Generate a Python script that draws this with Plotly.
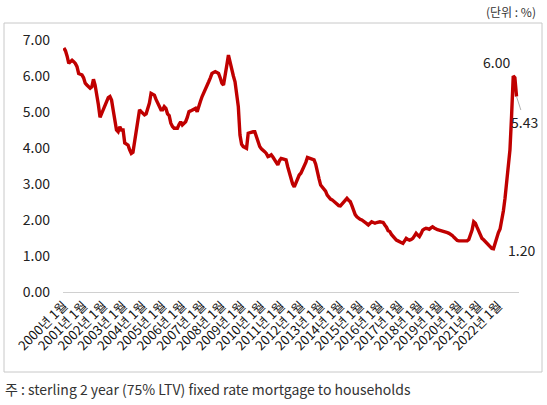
import plotly.graph_objects as go

W, H = 547, 405

years = list(range(2000, 2023))
months = list(range(1, 13))

rate_2000 = [6.78, 6.70, 6.55, 6.35, 6.40, 6.44, 6.40, 6.35, 6.26, 6.07, 6.05, 6.03]
rate_2001 = [5.95, 5.80, 5.75, 5.70, 5.66, 5.70, 5.91, 5.75, 5.52, 5.20, 4.85, 4.95]
rate_2002 = [5.06, 5.15, 5.30, 5.40, 5.43, 5.33, 5.05, 4.78, 4.50, 4.45, 4.59, 4.50]
rate_2003 = [4.50, 4.14, 4.10, 4.08, 3.95, 3.85, 3.88, 4.20, 4.50, 4.80, 5.06, 5.01]
rate_2004 = [4.95, 4.92, 4.95, 5.10, 5.25, 5.52, 5.50, 5.47, 5.35, 5.24, 5.15, 5.06]
rate_2005 = [5.06, 5.15, 5.10, 4.95, 4.90, 4.69, 4.60, 4.55, 4.55, 4.55, 4.65, 4.73]
rate_2006 = [4.64, 4.68, 4.73, 4.85, 5.01, 5.03, 5.06, 5.08, 5.10, 5.01, 5.19, 5.30]
rate_2007 = [5.43, 5.52, 5.61, 5.75, 5.84, 5.95, 6.07, 6.10, 6.12, 6.10, 6.07, 5.95]
rate_2008 = [5.80, 5.75, 5.98, 6.30, 6.58, 6.35, 6.12, 6.00, 5.84, 5.50, 5.15, 4.36]
rate_2009 = [4.10, 4.04, 4.00, 3.99, 4.41, 4.43, 4.45, 4.45, 4.45, 4.31, 4.15, 4.04]
rate_2010 = [3.98, 3.95, 3.90, 3.85, 3.76, 3.78, 3.81, 3.75, 3.67, 3.60, 3.53, 3.65]
rate_2011 = [3.71, 3.70, 3.68, 3.67, 3.48, 3.30, 3.10, 3.00, 2.92, 3.05, 3.16, 3.25]
rate_2012 = [3.30, 3.40, 3.48, 3.60, 3.74, 3.72, 3.71, 3.70, 3.67, 3.55, 3.39, 3.15]
rate_2013 = [2.97, 2.92, 2.88, 2.80, 2.69, 2.62, 2.58, 2.56, 2.52, 2.46, 2.44, 2.40]
rate_2014 = [2.39, 2.45, 2.51, 2.55, 2.60, 2.55, 2.51, 2.40, 2.23, 2.15, 2.09, 2.04]
rate_2015 = [2.02, 2.00, 1.97, 1.95, 1.90, 1.86, 1.90, 1.95, 1.93, 1.91, 1.93, 1.95]
rate_2016 = [1.95, 1.94, 1.93, 1.86, 1.80, 1.70, 1.68, 1.60, 1.54, 1.50, 1.44, 1.42]
rate_2017 = [1.40, 1.38, 1.35, 1.42, 1.49, 1.46, 1.44, 1.46, 1.49, 1.56, 1.63, 1.58]
rate_2018 = [1.54, 1.62, 1.72, 1.75, 1.77, 1.76, 1.74, 1.78, 1.81, 1.78, 1.74, 1.73]
rate_2019 = [1.72, 1.71, 1.70, 1.68, 1.67, 1.65, 1.63, 1.61, 1.57, 1.52, 1.47, 1.43]
rate_2020 = [1.42, 1.42, 1.42, 1.42, 1.42, 1.42, 1.46, 1.60, 1.72, 1.95, 1.91, 1.80]
rate_2021 = [1.68, 1.58, 1.49, 1.45, 1.40, 1.35, 1.31, 1.25, 1.21, 1.20, 1.35, 1.55]
rate_2022 = [1.65, 1.75, 1.95, 2.25, 2.60, 3.10, 3.55, 3.95, 4.90, 6.00, 5.95, 5.43]

yearly = [rate_2000, rate_2001, rate_2002, rate_2003, rate_2004, rate_2005,
          rate_2006, rate_2007, rate_2008, rate_2009, rate_2010, rate_2011,
          rate_2012, rate_2013, rate_2014, rate_2015, rate_2016, rate_2017,
          rate_2018, rate_2019, rate_2020, rate_2021, rate_2022]

categories = [f"{y}년 {m}월" for y in years for m in months]
values = [v for yr in yearly for v in yr]
tick_labels = [f"{y}년 1월" for y in years]

y_ticks = [0, 1, 2, 3, 4, 5, 6, 7]

# layout in pixels
L, R, T, B = 63, 28, 40, 113
pw, ph = W - L - R, H - T - B

def px(xp):
    return (xp - L) / pw

def py(yp):
    return (H - B - yp) / ph

fig = go.Figure()
fig.add_trace(go.Scatter(
    x=categories, y=values, mode="lines",
    line=dict(color="#C00000", width=3.4),
    hoverinfo="skip", showlegend=False,
))

fig.update_layout(
    width=W, height=H,
    margin=dict(l=L, r=R, t=T, b=B),
    paper_bgcolor="white", plot_bgcolor="white",
    font=dict(family="Noto Sans CJK KR, Noto Sans, sans-serif", color="#222"),
    xaxis=dict(
        type="category",
        range=[-0.5, len(categories) + 0.5],
        tickmode="array", tickvals=tick_labels, ticktext=tick_labels,
        tickangle=-45, tickfont=dict(size=13, color="#111"),
        showgrid=False, zeroline=False,
        showline=True, linecolor="#d0d0d0", linewidth=1,
        ticks="",
    ),
    yaxis=dict(
        range=[0, 7], tickvals=y_ticks, tickformat=".2f",
        tickfont=dict(size=14, color="#222"),
        showgrid=False, zeroline=False, showline=False,
        ticklabelstandoff=12,
    ),
)

shapes = [dict(type="rect", xref="paper", yref="paper",
               x0=px(4), x1=px(542), y0=py(372), y1=py(23),
               line=dict(color="#c8c8c8", width=1), fillcolor="rgba(0,0,0,0)",
               layer="below")]
fig.update_layout(shapes=shapes)

fig.add_annotation(x=categories[273], y=values[273], text="6.00",
                   showarrow=False, xshift=-17, yshift=14,
                   font=dict(size=14, color="#222"))
fig.add_annotation(x=categories[275], y=values[275], text="5.43",
                   showarrow=True, arrowhead=0, arrowwidth=0.8, arrowcolor="#999",
                   ax=8, ay=25, font=dict(size=14, color="#222"))
fig.add_annotation(x=categories[261], y=values[261], text="1.20",
                   showarrow=False, xshift=28, yshift=-1,
                   font=dict(size=14, color="#222"))

fig.add_annotation(xref="paper", yref="paper", x=px(538), y=py(12),
                   xanchor="right", yanchor="middle", showarrow=False,
                   text="(단위 : %)", font=dict(size=12, color="#333"))
fig.add_annotation(xref="paper", yref="paper", x=px(3), y=py(389),
                   xanchor="left", yanchor="middle", showarrow=False,
                   text="주 : sterling 2 year (75% LTV) fixed rate mortgage to households",
                   font=dict(size=14, color="#333"))

fig.write_html("out.html")
